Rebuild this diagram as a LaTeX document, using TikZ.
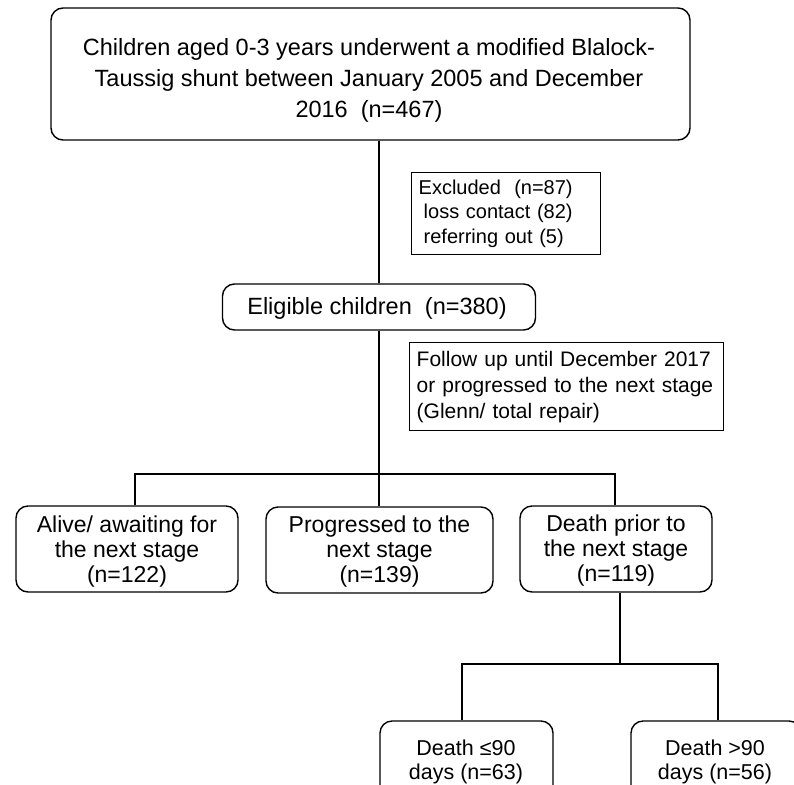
\documentclass[tikz,border=0pt]{standalone}
\usepackage{fontspec}
\setmainfont{Liberation Sans}
\begin{document}
\begin{tikzpicture}[x=1pt,y=-1pt,
  rbox/.style={draw=black,line width=1.4pt,rounded corners=12pt,inner sep=0pt},
  sbox/.style={draw=black,line width=1.4pt,align=left,inner sep=0pt,anchor=north west},
  txt/.style={align=center,inner sep=0pt},
  conn/.style={line width=1.4pt},
  big/.style={font=\fontsize{23.5}{31}\selectfont},
  mid/.style={font=\fontsize{23}{25}\selectfont},
  low/.style={font=\fontsize{21.5}{24.5}\selectfont},
  small/.style={font=\fontsize{20}{24.5}\selectfont},
  med/.style={font=\fontsize{21}{26}\selectfont}]
\useasboundingbox (0,0) rectangle (794,784);
\clip (0,0) rectangle (794,784);
% boxes
\node[rbox,minimum width=639pt,minimum height=132pt] (top) at (370.5,74) {};
\node[txt,big] (toptxt) at (369,80)
  {Children aged 0-3 years underwent a modified Blalock-\\Taussig shunt between January 2005 and December\\2016\ \ (n=467)};
\node[sbox,small,minimum width=189pt,minimum height=82pt,text width=181pt] (excl) at (411,172)
  {\hspace*{3pt}Excluded\ \ (n=87)\\\hspace*{8pt}loss contact (82)\\\hspace*{8pt}referring out (5)};
\node[rbox,minimum width=313pt,minimum height=46pt] (elig) at (379,307) {};
\node[txt,big] (eligtxt) at (377,308) {Eligible children\ \ (n=380)};
\node[sbox,med,minimum width=314pt,minimum height=88pt,text width=306pt] (foll) at (409,342)
  {\hspace*{3pt}Follow up until December 2017\\\hspace*{3pt}or progressed to the next stage\\\hspace*{3pt}(Glenn/ total repair)};
\node[rbox,minimum width=222pt,minimum height=86pt] (alive) at (127,549) {};
\node[txt,mid] (alivetxt) at (127,552) {Alive/ awaiting for\\the next stage\\(n=122)};
\node[rbox,minimum width=227pt,minimum height=86pt] (prog) at (379.5,550) {};
\node[txt,mid] (progtxt) at (379.5,552) {Progressed to the\\next stage\\(n=139)};
\node[rbox,minimum width=192pt,minimum height=86pt] (death) at (616,549) {};
\node[txt,mid] (deathtxt) at (616,551) {Death prior to\\the next stage\\(n=119)};
\node[rbox,minimum width=173pt,minimum height=80pt] (d1) at (466.5,761) {};
\node[txt,low] (d1txt) at (466,762) {Death ≤90\\days (n=63)};
\node[rbox,minimum width=170pt,minimum height=80pt] (d2) at (716,761) {};
\node[txt,low] (d2txt) at (715,762) {Death >90\\days (n=56)};
% connectors
\coordinate (bl) at (135,474);
\coordinate (br) at (615,474);
\coordinate (dm) at (620,664);
\coordinate (dl) at (462,664);
\coordinate (dr) at (718,664);
\draw[conn] (elig.north) -- (elig.north |- top.south);
\draw[conn] (elig.south) -- (elig.south |- prog.north);
\draw[conn] (bl |- alive.north) -- (bl) -- (br) -- (br |- death.north);
\draw[conn] (dm |- death.south) -- (dm);
\draw[conn] (dl |- d1.north) -- (dl) -- (dr) -- (dr |- d2.north);
\end{tikzpicture}
\end{document}
